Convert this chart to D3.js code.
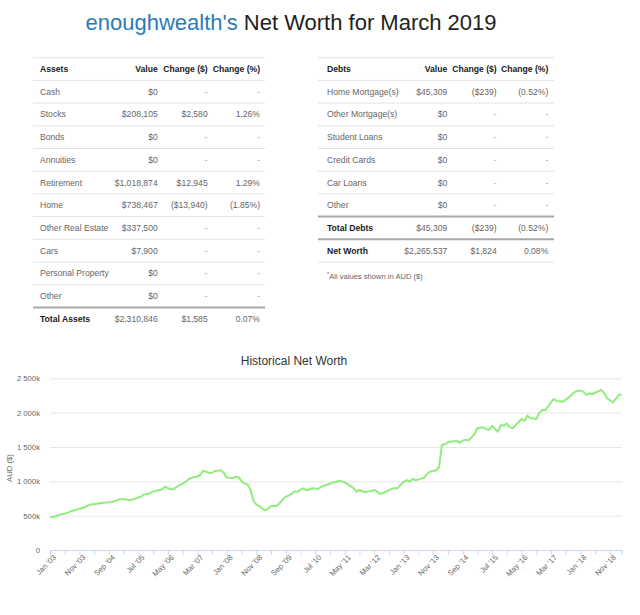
<!DOCTYPE html>
<html>
<head>
<meta charset="utf-8">
<script src="https://cdn.jsdelivr.net/npm/d3@7"></script>
<style>
  body { margin: 0; background: #fff; }
  svg { display: block; font-family: "Liberation Sans", Arial, sans-serif; }
</style>
</head>
<body>
<svg id="page" width="640" height="615"></svg>
<script>
// ---- table data ----
const assetNames = ['Cash', 'Stocks', 'Bonds', 'Annuities', 'Retirement', 'Home',
  'Other Real Estate', 'Cars', 'Personal Property', 'Other'];
const assetValues = [0, 208105, 0, 0, 1018874, 738467, 337500, 7900, 0, 0];
const assetChange = [null, 2580, null, null, 12945, -13940, null, null, null, null];
const assetChangePct = [null, 1.26, null, null, 1.29, -1.85, null, null, null, null];
const assetTotal = [2310846, 1585, 0.07];

const debtNames = ['Home Mortgage(s)', 'Other Mortgage(s)', 'Student Loans',
  'Credit Cards', 'Car Loans', 'Other'];
const debtValues = [45309, 0, 0, 0, 0, 0];
const debtChange = [-239, null, null, null, null, null];
const debtChangePct = [-0.52, null, null, null, null, null];
const debtTotal = [45309, -239, -0.52];
const netWorthTotal = [2265537, 1824, 0.08];

// ---- chart data: monthly net worth (k AUD), Jan '03 .. Mar '19 ----
const netWorthK = [
  476, 480, 490, 512, 520, 530, 545, 565, 575, 585, 600, 612,          // 2003
  626, 650, 665, 665, 672, 680, 688, 690, 694, 700, 714, 730,          // 2004
  738, 740, 735, 723, 735, 748, 765, 780, 812, 815, 830, 850,          // 2005
  864, 869, 880, 922, 900, 885, 888, 920, 945, 965, 990, 1030,         // 2006
  1050, 1063, 1070, 1092, 1155, 1140, 1121, 1126, 1150, 1155, 1160, 1120, // 2007
  1058, 1050, 1044, 1068, 1060, 1000, 970, 956, 880, 720, 665, 640,    // 2008
  607, 578, 602, 641, 641, 645, 685, 738, 775, 791, 820, 854,          // 2009
  845, 880, 898, 869, 885, 898, 895, 888, 920, 937, 950, 965,          // 2010
  985, 990, 1005, 1000, 985, 960, 930, 900, 849, 874, 855, 840,        // 2011
  850, 860, 874, 850, 815, 830, 849, 870, 895, 898, 900, 950,          // 2012
  990, 1019, 995, 1034, 1019, 1025, 1040, 1053, 1110, 1141, 1150, 1160, // 2013
  1204, 1529, 1540, 1568, 1575, 1585, 1592, 1560, 1590, 1607, 1592, 1640, // 2014
  1684, 1772, 1780, 1786, 1760, 1747, 1810, 1760, 1723, 1820, 1810, 1845, // 2015
  1790, 1772, 1820, 1860, 1910, 1878, 1956, 1920, 1915, 1908, 1990, 2039, // 2016
  2034, 2090, 2150, 2199, 2170, 2165, 2160, 2190, 2218, 2260, 2300, 2318, // 2017
  2320, 2306, 2257, 2281, 2272, 2290, 2310, 2330, 2291, 2209, 2180, 2150, // 2018
  2200, 2257, 2266                                                      // 2019
];
const yTicks = [0, 500, 1000, 1500, 2000, 2500];

const fmtMoney = d3.format(',.0f');
function money(v) {
  if (v === null) return '-';
  return v < 0 ? `($${fmtMoney(-v)})` : `$${fmtMoney(v)}`;
}
function pct(v) {
  if (v === null) return '-';
  return v < 0 ? `(${(-v).toFixed(2)}%)` : `${v.toFixed(2)}%`;
}

const svg = d3.select('#page');

// ---- page title ----
const title = svg.append('text')
  .attr('x', 291)
  .attr('y', 29.5)
  .attr('text-anchor', 'middle')
  .style('font-size', '22px')
  .style('fill', '#222');
title.append('tspan').style('fill', '#2b7bb9').text("enoughwealth's");
title.append('tspan').text(' Net Worth for March 2019');

// ---- tables ----
const rowH = 22.7;
const tableTop = 57.7;
const fs = 8.6;

function drawTable(opts) {
  const g = svg.append('g').attr('class', 'table');
  const cols = opts.cols; // right edges of the three number columns
  const baseline = (i) => tableTop + rowH * i + rowH / 2 + fs * 0.35;

  function hline(i, heavy) {
    g.append('line')
      .attr('x1', opts.left).attr('x2', opts.right)
      .attr('y1', tableTop + rowH * i).attr('y2', tableTop + rowH * i)
      .attr('stroke', heavy ? '#a8a8a8' : '#e2e2e2')
      .attr('stroke-width', heavy ? 2 : 1);
  }

  function row(i, cells, bold) {
    const y = baseline(i);
    g.append('text')
      .attr('x', opts.textLeft).attr('y', y)
      .style('font-size', fs + 'px')
      .style('font-weight', bold ? 'bold' : 'normal')
      .style('fill', bold ? '#1a1a1a' : '#666')
      .text(cells[0]);
    cells.slice(1).forEach((c, k) => {
      g.append('text')
        .attr('x', cols[k]).attr('y', y)
        .attr('text-anchor', 'end')
        .style('font-size', fs + 'px')
        .style('font-weight', opts.header && i === 0 ? 'bold' : 'normal')
        .style('fill', opts.header && i === 0 ? '#1a1a1a' : (c === '-' ? '#aaa' : '#666'))
        .text(c);
    });
  }

  hline(0, false);
  row(0, [opts.heading, 'Value', 'Change ($)', 'Change (%)'], true);
  opts.names.forEach((name, i) => {
    hline(i + 1, false);
    row(i + 1, [name, money(opts.values[i]), money(opts.change[i]), pct(opts.pct[i])], false);
  });
  opts.totals.forEach((t, j) => {
    const i = opts.names.length + 1 + j;
    hline(i, true);
    row(i, [t.label, money(t.v[0]), money(t.v[1]), pct(t.v[2])], true);
  });
  if (opts.bottomLine) hline(opts.names.length + 1 + opts.totals.length, false);
  return g;
}

drawTable({
  left: 33, right: 265, textLeft: 40, cols: [157.7, 207.7, 260],
  header: true, heading: 'Assets',
  names: assetNames, values: assetValues, change: assetChange, pct: assetChangePct,
  totals: [{ label: 'Total Assets', v: assetTotal }],
  bottomLine: false
});

drawTable({
  left: 318, right: 554, textLeft: 327, cols: [447.3, 496.7, 548.3],
  header: true, heading: 'Debts',
  names: debtNames, values: debtValues, change: debtChange, pct: debtChangePct,
  totals: [{ label: 'Total Debts', v: debtTotal }, { label: 'Net Worth', v: netWorthTotal }],
  bottomLine: true
});

const note = svg.append('text')
  .attr('x', 327).attr('y', 278.5)
  .style('font-size', '7.6px')
  .style('fill', '#666');
note.append('tspan').attr('dy', -2.5).style('font-size', '5.5px').text('*');
note.append('tspan').attr('dy', 2.5).text('All values shown in AUD ($)');

// ---- historical net worth chart ----
const plot = { left: 50, right: 621.7, top: 378.3, bottom: 550 };

const months = d3.timeMonth.range(new Date(2003, 0, 1), new Date(2019, 3, 1));
const fmtMonth = d3.timeFormat("%b '%y");
const categories = months.map(fmtMonth);

const x = d3.scalePoint()
  .domain(categories)
  .range([plot.left, plot.right]);

const y = d3.scaleLinear()
  .domain([0, 2500])
  .range([plot.bottom, plot.top]);

svg.append('text')
  .attr('x', 294)
  .attr('y', 365)
  .attr('text-anchor', 'middle')
  .style('font-size', '12px')
  .style('fill', '#333')
  .text('Historical Net Worth');

const fmtK = d3.format(',');
const yAxis = svg.append('g')
  .attr('transform', `translate(${plot.left},0)`)
  .call(
    d3.axisLeft(y)
      .tickValues(yTicks)
      .tickSize(-(plot.right - plot.left))
      .tickPadding(10)
      .tickFormat((d) => (d === 0 ? '0' : fmtK(d).replace(',', ' ') + 'k'))
  );
yAxis.select('.domain').remove();
yAxis.selectAll('.tick line').attr('stroke', '#e6e6e6');
yAxis.selectAll('.tick text')
  .style('font-size', '7.7px')
  .style('fill', '#666');

svg.append('text')
  .attr('transform', 'rotate(-90)')
  .attr('x', -468)
  .attr('y', 12)
  .attr('text-anchor', 'middle')
  .style('font-size', '7.7px')
  .style('fill', '#666')
  .text('AUD ($)');

const tickCats = categories.filter((c, i) => i % 5 === 0);
const xAxis = svg.append('g')
  .attr('transform', `translate(0,${plot.bottom})`)
  .call(
    d3.axisBottom(x)
      .tickValues(tickCats)
      .tickSize(5)
      .tickFormat((c) => (categories.indexOf(c) % 10 === 0 ? c : ''))
  );
xAxis.select('.domain').attr('stroke', '#ccd6eb');
xAxis.selectAll('.tick line').attr('stroke', '#ccd6eb');
xAxis.selectAll('.tick text')
  .attr('text-anchor', 'end')
  .attr('transform', 'translate(2,4) rotate(-45)')
  .attr('dy', '0.35em')
  .attr('y', 3)
  .style('font-size', '7.7px')
  .style('fill', '#666');

const line = d3.line()
  .x((d, i) => x(categories[i]))
  .y((d) => y(d));

svg.append('path')
  .datum(netWorthK)
  .attr('fill', 'none')
  .attr('stroke', '#90ed7d')
  .attr('stroke-width', 2)
  .attr('stroke-linejoin', 'round')
  .attr('d', line);
</script>
</body>
</html>
